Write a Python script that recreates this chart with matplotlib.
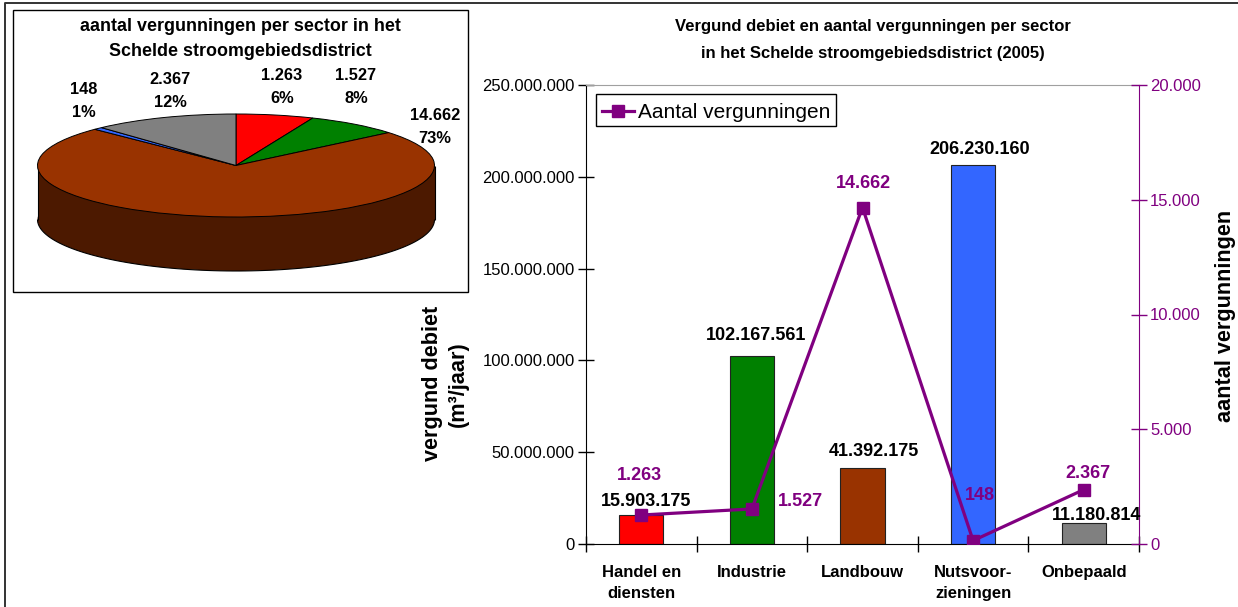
import numpy as np
import matplotlib
matplotlib.use('Agg')
import matplotlib.pyplot as plt
from matplotlib.patches import Rectangle
from matplotlib.ticker import FuncFormatter

# data
sectors = ['Handel en\ndiensten', 'Industrie', 'Landbouw', 'Nutsvoor-\nzieningen', 'Onbepaald']
debiet = [15903175, 102167561, 41392175, 206230160, 11180814]
vergunningen = [1263, 1527, 14662, 148, 2367]
percent = ['6%', '8%', '73%', '1%', '12%']
colors = ['#ff0000', '#008000', '#993300', '#3366ff', '#808080']

PURPLE = '#800080'
W, H = 1238, 607

plt.rcParams['font.family'] = ['Liberation Sans', 'DejaVu Sans']


def dots(v, pos=None):
    return f'{int(v):,}'.replace(',', '.')


def box(x0, y0, x1, y1):
    # pixel box (y from the top) -> figure fractions
    return [x0 / W, 1 - y1 / H, (x1 - x0) / W, (y1 - y0) / H]


fig = plt.figure(figsize=(W / 100, H / 100), dpi=100)

# frames in pixel coordinates
bg = fig.add_axes([0, 0, 1, 1])
bg.set_xlim(0, W)
bg.set_ylim(H, 0)
bg.axis('off')
bg.plot([5, 5, W], [H, 3, 3], color='#333333', lw=1.4)
bg.add_patch(Rectangle((13, 10), 455, 282, fc='white', ec='black', lw=1.0))

# pie, 3d look with a shifted dark copy under the top
pie = fig.add_axes(box(37.5, 114, 434.5, 217), facecolor='none')
depth = 54 / 51.5
pie.pie(vergunningen, startangle=90, counterclock=False, center=(0, -depth),
        colors=['#4c1900'] * 5, wedgeprops={'linewidth': 0})
pie.add_patch(Rectangle((-1, -depth), 2, depth, fc='#4c1900', ec='none', zorder=1))
pie.plot([-1, -1], [0, -depth], color='black', lw=0.8, zorder=1.5, solid_capstyle='butt')
pie.plot([1, 1], [0, -depth], color='black', lw=0.8, zorder=1.5, solid_capstyle='butt')
t = np.linspace(np.pi, 2 * np.pi, 100)
pie.plot(np.cos(t), np.sin(t) - depth, color='black', lw=0.8, zorder=1.5, solid_capstyle='butt')
pie.pie(vergunningen, startangle=90, counterclock=False, colors=colors,
        wedgeprops={'linewidth': 0.7, 'edgecolor': 'black', 'zorder': 2})
pie.set_aspect('auto')
pie.set_xlim(-1, 1)
pie.set_ylim(-1, 1)
pie.axis('off')
for a in pie.patches + pie.lines:
    a.set_clip_on(False)

bg.text(240, 39, 'aantal vergunningen per sector in het\nSchelde stroomgebiedsdistrict', ha='center',
        va='center', fontsize=12.9, fontweight='bold', linespacing=1.58)
pie_label_pos = [(282, 87), (356, 87), (435, 127), (84, 101), (170, 91)]
for (x, y), n, p in zip(pie_label_pos, vergunningen, percent):
    bg.text(x, y, f'{dots(n)}\n{p}', ha='center', va='center', fontsize=11.8, fontweight='bold', linespacing=1.64)

# main chart
ax = fig.add_axes(box(586, 85, 1139, 544))
pos = np.arange(len(sectors))
ax.bar(pos, debiet, width=0.4, color=colors, edgecolor='#222222', linewidth=0.8)
ax.set_xlim(-0.5, 4.5)
ax.set_ylim(0, 250000000)
ax.set_yticks(np.arange(0, 250000001, 50000000))
ax.yaxis.set_major_formatter(FuncFormatter(dots))
ax.tick_params(axis='y', labelsize=12, length=12, width=1, direction='inout', pad=2)
ax.set_xticks(pos)
ax.set_xticklabels(sectors, fontsize=12, fontweight='bold', linespacing=1.52)
ax.set_xticks(np.arange(-0.5, 5), minor=True)
ax.tick_params(axis='x', which='major', length=0, pad=15)
ax.tick_params(axis='x', which='minor', length=12, width=1, direction='inout')
ax.spines['top'].set_color('#a0a0a0')
ax.spines['right'].set_visible(False)
ax.set_ylabel('vergund debiet\n(m³/jaar)', fontsize=15.6, fontweight='bold', linespacing=1.28)
ax.yaxis.set_label_coords(-0.212, 0.349)

bar_label_pos = [(646, 502), (756, 335), (874, 452), (980, 149), (1097, 515)]
for (x, y), v in zip(bar_label_pos, debiet):
    bg.text(x, y, dots(v), ha='center', va='center', fontsize=13, fontweight='bold', zorder=10)

ax2 = ax.twinx()
ax2.plot(pos, vergunningen, color=PURPLE, lw=2.3, marker='s', ms=8, label='Aantal vergunningen')
ax2.set_ylim(0, 20000)
ax2.set_yticks(np.arange(0, 20001, 5000))
ax2.yaxis.set_major_formatter(FuncFormatter(dots))
ax2.tick_params(axis='y', labelsize=12, length=12, width=1, direction='inout', color=PURPLE,
                labelcolor=PURPLE, pad=2)
ax2.spines['right'].set_color(PURPLE)
ax2.spines['top'].set_visible(False)
ax2.spines['left'].set_visible(False)
ax2.spines['bottom'].set_visible(False)
ax2.set_ylabel('aantal vergunningen', fontsize=15.6, fontweight='bold')
ax2.yaxis.set_label_coords(1.137, 0.497)

line_label_pos = [(639, 475), (800, 501), (863, 183), (980, 495), (1088, 474)]
for (x, y), v in zip(line_label_pos, vergunningen):
    bg.text(x, y, dots(v), ha='center', va='center', fontsize=13, fontweight='bold', color=PURPLE, zorder=10)

bg.set_zorder(5)
bg.patch.set_alpha(0)
bg.patches[0].set_zorder(0)
pie.set_zorder(6)

leg = ax2.legend(loc='upper left', bbox_to_anchor=box(596, 94, 836, 127), bbox_transform=fig.transFigure,
                 mode='expand', fontsize=15, frameon=True, fancybox=False, edgecolor='black', framealpha=1,
                 borderaxespad=0, borderpad=0.3, handlelength=1.5, handletextpad=0.2)
leg.get_frame().set_linewidth(1)
# nudge the legend entry down a little inside its box
leg.get_texts()[0].set_y(-3)
h = leg.legend_handles[0]
h.set_ydata(np.asarray(h.get_ydata()) - 2.2)

fig.text(873 / W, 1 - 40 / H, 'Vergund debiet en aantal vergunningen per sector\nin het Schelde stroomgebiedsdistrict (2005)',
         ha='center', va='center', fontsize=12, fontweight='bold', linespacing=1.94)

plt.savefig('out.png', dpi=100)
